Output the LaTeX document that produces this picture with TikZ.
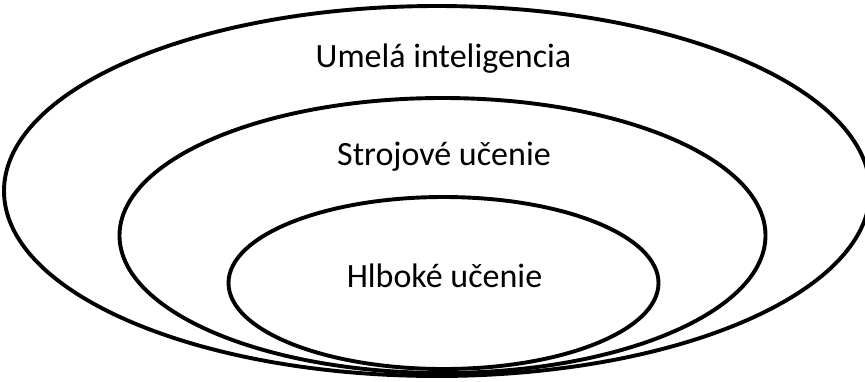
\documentclass[tikz,border=0pt]{standalone}
\usepackage{fontspec}
\setmainfont{Carlito}
\begin{document}
\begin{tikzpicture}[x=1pt,y=-1pt,
  ring/.style={draw=black,line width=3.9pt},
  lbl/.style={anchor=base,font=\fontsize{34}{37}\selectfont,inner sep=0pt}]
\useasboundingbox (0,0) rectangle (865,381);
\begin{scope}
\clip (0,0) rectangle (865,381);
% three nested sets
\draw[ring] (437,191) ellipse [x radius=433,y radius=185];
\draw[ring] (442.5,235.5) ellipse [x radius=323,y radius=137.5];
\draw[ring] (443.5,283) ellipse [x radius=215,y radius=86];
\end{scope}
\node[lbl] (ai) at (443.5,67) {Umelá inteligencia};
\node[lbl] (ml) at (444,165) {Strojové učenie};
\node[lbl] (dl) at (444.5,287) {Hlboké učenie};
\end{tikzpicture}
\end{document}
